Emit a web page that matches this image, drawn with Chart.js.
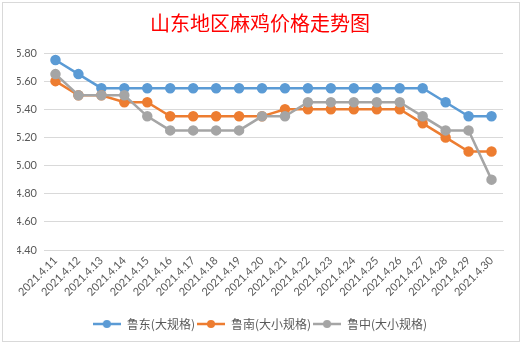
<!DOCTYPE html>
<html>
<head>
<meta charset="utf-8">
<script src="https://cdn.jsdelivr.net/npm/chart.js@4/dist/chart.umd.min.js"></script>
<style>
  html, body { margin: 0; padding: 0; background: #ffffff; }
  #wrap { width: 522px; height: 345px; }
</style>
</head>
<body>
<div id="wrap"><canvas id="c" width="522" height="345"></canvas></div>
<script>
const titleText = '山东地区麻鸡价格走势图';
const categories = ['2021.4.11','2021.4.12','2021.4.13','2021.4.14','2021.4.15','2021.4.16','2021.4.17','2021.4.18','2021.4.19','2021.4.20',
                    '2021.4.21','2021.4.22','2021.4.23','2021.4.24','2021.4.25','2021.4.26','2021.4.27','2021.4.28','2021.4.29','2021.4.30'];
const seriesNames = ['鲁东(大规格)', '鲁南(大小规格)', '鲁中(大小规格)'];
const ludong   = [5.75, 5.65, 5.55, 5.55, 5.55, 5.55, 5.55, 5.55, 5.55, 5.55, 5.55, 5.55, 5.55, 5.55, 5.55, 5.55, 5.55, 5.45, 5.35, 5.35];
const lunan    = [5.60, 5.50, 5.50, 5.45, 5.45, 5.35, 5.35, 5.35, 5.35, 5.35, 5.40, 5.40, 5.40, 5.40, 5.40, 5.40, 5.30, 5.20, 5.10, 5.10];
const luzhong  = [5.65, 5.50, 5.50, 5.50, 5.35, 5.25, 5.25, 5.25, 5.25, 5.35, 5.35, 5.45, 5.45, 5.45, 5.45, 5.45, 5.35, 5.25, 5.25, 4.90];
const yMin = 4.4, yMax = 5.8, yStep = 0.2;
const colors = ['#5B9BD5', '#ED7D31', '#A5A5A5'];

function legendIcon(color) {
  const cv = document.createElement('canvas');
  cv.width = 28; cv.height = 10;
  const g = cv.getContext('2d');
  g.strokeStyle = color; g.lineWidth = 2.5;
  g.beginPath(); g.moveTo(0, 5); g.lineTo(28, 5); g.stroke();
  g.fillStyle = color;
  g.beginPath(); g.arc(14, 5, 4, 0, Math.PI * 2); g.fill();
  return cv;
}

const frame = {
  id: 'frame',
  beforeDraw(chart) {
    const ctx = chart.ctx;
    ctx.save();
    ctx.fillStyle = '#ffffff';
    ctx.fillRect(0, 0, chart.width, chart.height);
    ctx.strokeStyle = '#d9d9d9';
    ctx.lineWidth = 1;
    ctx.strokeRect(2.5, 2.5, 517, 339);
    ctx.restore();
  }
};

const seriesData = [ludong, lunan, luzhong];
const datasets = seriesData.map((d, i) => ({
  label: seriesNames[i],
  data: d,
  borderColor: colors[i],
  backgroundColor: colors[i],
  pointBackgroundColor: colors[i],
  pointBorderColor: colors[i],
  borderWidth: 2.5,
  pointRadius: 4,
  pointHoverRadius: 4,
  tension: 0,
  order: 3 - i
}));

new Chart(document.getElementById('c'), {
  type: 'line',
  data: { labels: categories, datasets: datasets },
  options: {
    responsive: false,
    devicePixelRatio: 1,
    animation: false,
    layout: { padding: { left: 17, right: 19, top: 0, bottom: 5 } },
    plugins: {
      title: {
        display: true,
        text: titleText,
        color: '#FF0000',
        font: { family: '"Noto Sans CJK SC"', size: 20, weight: 'normal', lineHeight: 1.2 },
        padding: { top: 11, bottom: 18 }
      },
      legend: {
        position: 'bottom',
        labels: {
          usePointStyle: true,
          pointStyleWidth: 28,
          padding: 2,
          color: '#595959',
          font: { family: '"Noto Sans CJK SC"', size: 12 },
          generateLabels(chart) {
            return chart.data.datasets.map((ds, i) => ({
              text: ds.label,
              fillStyle: colors[i],
              strokeStyle: colors[i],
              lineWidth: 0,
              pointStyle: legendIcon(colors[i]),
              datasetIndex: i,
              hidden: false,
              fontColor: '#595959'
            }));
          }
        }
      },
      tooltip: { enabled: false }
    },
    scales: {
      x: {
        offset: true,
        grid: { display: false, drawTicks: false },
        border: { display: true, color: '#d9d9d9', width: 1 },
        ticks: {
          autoSkip: false,
          minRotation: 45,
          maxRotation: 45,
          padding: 4,
          color: '#595959',
          font: { family: 'Lato', size: 11 }
        },
        afterFit(scale) { scale.height = 66; }
      },
      y: {
        min: yMin,
        max: yMax,
        grid: { color: '#d9d9d9', lineWidth: 1, drawTicks: false },
        border: { display: false },
        ticks: {
          stepSize: yStep,
          padding: 7,
          color: '#595959',
          font: { family: 'Lato', size: 11 },
          callback: (v) => Number(v).toFixed(2)
        },
        afterFit(scale) { scale.width = 27; }
      }
    }
  },
  plugins: [frame]
});
</script>
</body>
</html>
